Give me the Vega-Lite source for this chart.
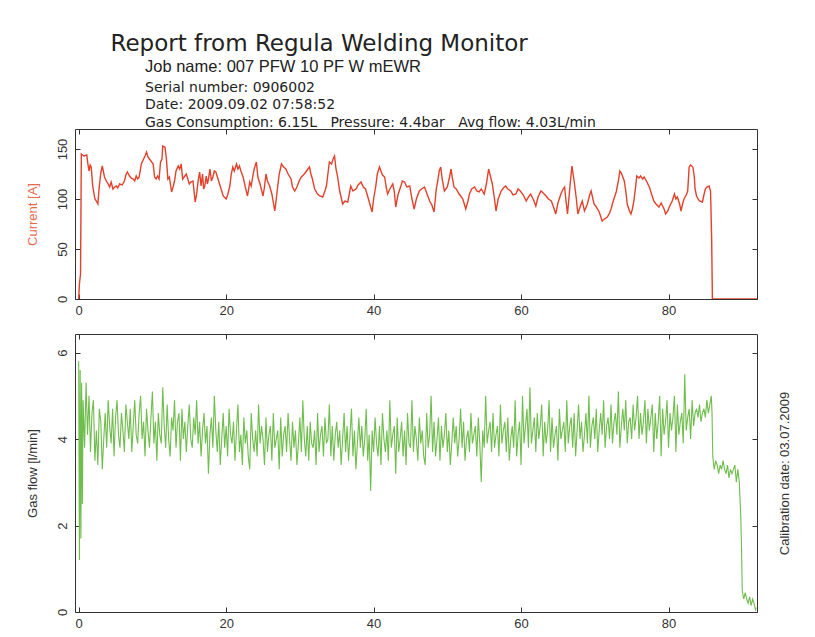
{
  "$schema": "https://vega.github.io/schema/vega-lite/v6.json",
  "background": "white",
  "padding": {"left": 25, "top": 32, "right": 22, "bottom": 0},
  "spacing": 15,
  "title": {"text": "Report from Regula Welding Monitor", "anchor": "start", "frame": "bounds", "fontSize": 23, "font": "DejaVu Sans", "fontWeight": "normal", "color": "#222222", "dx": 85, "offset": 3},
  "config": {
    "view": {"stroke": "#333333", "strokeWidth": 1},
    "axis": {"labelFont": "Liberation Sans", "titleFont": "Liberation Sans", "labelFontSize": 13, "titleFontSize": 13, "labelColor": "#333333", "titleColor": "#333333", "titleFontWeight": "normal", "tickColor": "#333333", "tickSize": 5, "domain": false, "grid": false}
  },
  "datasets": {
    "current": [
      {"t":0,"current":0},{"t":0.1,"current":15},{"t":0.25,"current":25},{"t":0.36,"current":145},{"t":0.7,"current":143},{"t":1.1,"current":144},{"t":1.25,"current":135},{"t":1.4,"current":128},{"t":1.55,"current":134},{"t":1.7,"current":132},{"t":1.9,"current":113},{"t":2.2,"current":100},{"t":2.4,"current":98},{"t":2.6,"current":95},{"t":2.8,"current":113},{"t":3.0,"current":126},{"t":3.2,"current":133},{"t":3.5,"current":122},{"t":3.75,"current":118},{"t":4.0,"current":115},{"t":4.2,"current":112},{"t":4.4,"current":117},{"t":4.65,"current":110},{"t":4.9,"current":112},{"t":5.1,"current":113},{"t":5.3,"current":111},{"t":5.55,"current":115},{"t":5.9,"current":114},{"t":6.2,"current":118},{"t":6.4,"current":124},{"t":6.6,"current":127},{"t":6.9,"current":123},{"t":7.1,"current":121},{"t":7.4,"current":120},{"t":7.6,"current":118},{"t":7.8,"current":123},{"t":8.0,"current":120},{"t":8.2,"current":122},{"t":8.5,"current":135},{"t":8.8,"current":140},{"t":9.0,"current":143},{"t":9.2,"current":147},{"t":9.4,"current":142},{"t":9.6,"current":140},{"t":9.8,"current":138},{"t":10.1,"current":135},{"t":10.3,"current":122},{"t":10.5,"current":120},{"t":10.7,"current":123},{"t":10.9,"current":120},{"t":11.1,"current":137},{"t":11.3,"current":140},{"t":11.4,"current":153},{"t":11.7,"current":152},{"t":11.9,"current":140},{"t":12.1,"current":120},{"t":12.3,"current":122},{"t":12.6,"current":107},{"t":12.8,"current":112},{"t":13.0,"current":118},{"t":13.2,"current":128},{"t":13.5,"current":133},{"t":13.7,"current":130},{"t":13.9,"current":135},{"t":14.1,"current":120},{"t":14.3,"current":122},{"t":14.6,"current":125},{"t":14.8,"current":120},{"t":15.0,"current":115},{"t":15.2,"current":117},{"t":15.5,"current":118},{"t":15.8,"current":97},{"t":16.0,"current":105},{"t":16.2,"current":118},{"t":16.4,"current":127},{"t":16.6,"current":113},{"t":16.8,"current":125},{"t":16.95,"current":110},{"t":17.1,"current":113},{"t":17.3,"current":123},{"t":17.45,"current":115},{"t":17.6,"current":120},{"t":17.8,"current":130},{"t":18.0,"current":118},{"t":18.2,"current":122},{"t":18.4,"current":128},{"t":18.6,"current":127},{"t":18.9,"current":120},{"t":19.1,"current":115},{"t":19.4,"current":108},{"t":19.6,"current":103},{"t":20.0,"current":100},{"t":20.2,"current":104},{"t":20.5,"current":113},{"t":20.7,"current":125},{"t":20.9,"current":132},{"t":21.1,"current":128},{"t":21.4,"current":135},{"t":21.6,"current":130},{"t":21.8,"current":133},{"t":22.0,"current":128},{"t":22.3,"current":122},{"t":22.6,"current":112},{"t":22.9,"current":103},{"t":23.2,"current":117},{"t":23.4,"current":113},{"t":23.6,"current":122},{"t":23.8,"current":130},{"t":24.1,"current":137},{"t":24.3,"current":122},{"t":24.6,"current":115},{"t":25.0,"current":103},{"t":25.2,"current":112},{"t":25.4,"current":125},{"t":25.6,"current":118},{"t":25.9,"current":113},{"t":26.2,"current":105},{"t":26.6,"current":88},{"t":26.8,"current":100},{"t":27.0,"current":113},{"t":27.2,"current":125},{"t":27.5,"current":135},{"t":27.8,"current":132},{"t":28.1,"current":130},{"t":28.4,"current":125},{"t":28.8,"current":120},{"t":29.0,"current":112},{"t":29.3,"current":108},{"t":29.6,"current":112},{"t":29.9,"current":118},{"t":30.2,"current":122},{"t":30.6,"current":125},{"t":30.9,"current":128},{"t":31.3,"current":132},{"t":31.5,"current":125},{"t":31.7,"current":120},{"t":32.0,"current":110},{"t":32.4,"current":105},{"t":32.7,"current":103},{"t":33.1,"current":102},{"t":33.4,"current":108},{"t":33.6,"current":113},{"t":33.8,"current":125},{"t":34.0,"current":137},{"t":34.3,"current":135},{"t":34.5,"current":140},{"t":34.7,"current":143},{"t":34.9,"current":130},{"t":35.1,"current":123},{"t":35.4,"current":108},{"t":35.8,"current":95},{"t":36.1,"current":98},{"t":36.5,"current":97},{"t":36.7,"current":105},{"t":36.9,"current":113},{"t":37.2,"current":108},{"t":37.6,"current":110},{"t":37.9,"current":114},{"t":38.3,"current":117},{"t":38.6,"current":112},{"t":38.9,"current":110},{"t":39.3,"current":100},{"t":39.8,"current":87},{"t":40.0,"current":100},{"t":40.3,"current":113},{"t":40.5,"current":125},{"t":40.8,"current":132},{"t":41.0,"current":128},{"t":41.2,"current":124},{"t":41.5,"current":122},{"t":41.7,"current":112},{"t":41.9,"current":105},{"t":42.2,"current":110},{"t":42.6,"current":115},{"t":42.8,"current":108},{"t":43.0,"current":92},{"t":43.3,"current":104},{"t":43.7,"current":113},{"t":43.9,"current":118},{"t":44.2,"current":117},{"t":44.5,"current":112},{"t":44.9,"current":113},{"t":45.2,"current":100},{"t":45.5,"current":90},{"t":45.8,"current":100},{"t":46.2,"current":108},{"t":46.5,"current":110},{"t":46.9,"current":112},{"t":47.2,"current":106},{"t":47.6,"current":98},{"t":47.9,"current":94},{"t":48.2,"current":87},{"t":48.5,"current":110},{"t":48.7,"current":118},{"t":48.9,"current":128},{"t":49.1,"current":132},{"t":49.3,"current":120},{"t":49.6,"current":108},{"t":49.8,"current":110},{"t":50.0,"current":112},{"t":50.3,"current":122},{"t":50.5,"current":130},{"t":50.7,"current":120},{"t":50.9,"current":112},{"t":51.2,"current":110},{"t":51.6,"current":105},{"t":52.1,"current":100},{"t":52.3,"current":95},{"t":52.5,"current":90},{"t":52.8,"current":98},{"t":53.0,"current":105},{"t":53.3,"current":110},{"t":53.7,"current":112},{"t":54.0,"current":108},{"t":54.3,"current":107},{"t":54.6,"current":110},{"t":55.0,"current":105},{"t":55.3,"current":115},{"t":55.6,"current":130},{"t":55.8,"current":124},{"t":56.1,"current":115},{"t":56.4,"current":100},{"t":56.6,"current":88},{"t":56.9,"current":100},{"t":57.3,"current":108},{"t":57.6,"current":111},{"t":57.9,"current":113},{"t":58.2,"current":110},{"t":58.6,"current":108},{"t":58.9,"current":104},{"t":59.3,"current":105},{"t":59.6,"current":110},{"t":59.9,"current":108},{"t":60.3,"current":104},{"t":60.7,"current":98},{"t":61.0,"current":102},{"t":61.3,"current":105},{"t":61.7,"current":99},{"t":62.0,"current":93},{"t":62.3,"current":102},{"t":62.7,"current":108},{"t":63.0,"current":106},{"t":63.4,"current":103},{"t":63.7,"current":100},{"t":64.1,"current":98},{"t":64.4,"current":92},{"t":64.7,"current":85},{"t":65.0,"current":96},{"t":65.4,"current":105},{"t":65.7,"current":110},{"t":65.9,"current":112},{"t":66.1,"current":98},{"t":66.3,"current":85},{"t":66.6,"current":110},{"t":66.9,"current":133},{"t":67.0,"current":128},{"t":67.2,"current":118},{"t":67.5,"current":100},{"t":67.7,"current":85},{"t":68.0,"current":92},{"t":68.3,"current":98},{"t":68.6,"current":88},{"t":69.0,"current":95},{"t":69.3,"current":104},{"t":69.5,"current":108},{"t":69.9,"current":95},{"t":70.2,"current":92},{"t":70.6,"current":87},{"t":71.0,"current":78},{"t":71.3,"current":80},{"t":71.7,"current":82},{"t":72.0,"current":86},{"t":72.2,"current":90},{"t":72.5,"current":98},{"t":72.9,"current":107},{"t":73.2,"current":118},{"t":73.4,"current":128},{"t":73.6,"current":126},{"t":74.0,"current":118},{"t":74.2,"current":108},{"t":74.4,"current":95},{"t":74.7,"current":88},{"t":74.9,"current":85},{"t":75.1,"current":90},{"t":75.3,"current":98},{"t":75.5,"current":110},{"t":75.7,"current":123},{"t":76.0,"current":121},{"t":76.2,"current":123},{"t":76.5,"current":120},{"t":76.7,"current":122},{"t":77.0,"current":118},{"t":77.4,"current":112},{"t":77.7,"current":105},{"t":78.0,"current":98},{"t":78.3,"current":95},{"t":78.7,"current":92},{"t":79.0,"current":96},{"t":79.2,"current":93},{"t":79.4,"current":90},{"t":79.6,"current":85},{"t":79.9,"current":88},{"t":80.1,"current":92},{"t":80.5,"current":98},{"t":80.8,"current":105},{"t":81.0,"current":100},{"t":81.2,"current":102},{"t":81.5,"current":95},{"t":81.7,"current":88},{"t":81.9,"current":95},{"t":82.1,"current":100},{"t":82.4,"current":104},{"t":82.6,"current":108},{"t":82.8,"current":132},{"t":83.0,"current":134},{"t":83.3,"current":132},{"t":83.5,"current":122},{"t":83.6,"current":110},{"t":83.8,"current":103},{"t":84.0,"current":100},{"t":84.2,"current":98},{"t":84.6,"current":97},{"t":84.8,"current":104},{"t":85.0,"current":110},{"t":85.2,"current":112},{"t":85.5,"current":113},{"t":85.7,"current":108},{"t":85.85,"current":60},{"t":85.95,"current":0},{"t":92,"current":0}
    ],
    "gas": [
      {"t":0,"flow":5.8},{"t":0.1,"flow":1.2},{"t":0.2,"flow":5.6},{"t":0.3,"flow":1.7},{"t":0.4,"flow":5.3},{"t":0.5,"flow":2.5},{"t":0.6,"flow":4.9},{"t":0.8,"flow":3.8},{"t":1.0,"flow":5.3},
      {"t":1.2,"flow":4.1},{"t":1.4,"flow":5.0},{"t":1.6,"flow":3.7},{"t":1.8,"flow":4.6},{"t":2.0,"flow":4.9},{"t":2.2,"flow":3.5},{"t":2.4,"flow":4.2},{"t":2.6,"flow":3.4},{"t":2.8,"flow":4.7},{"t":3.0,"flow":4.4},
      {"t":3.2,"flow":3.3},{"t":3.4,"flow":4.0},{"t":3.6,"flow":4.6},{"t":3.8,"flow":3.8},{"t":4.0,"flow":4.9},{"t":4.2,"flow":4.3},{"t":4.4,"flow":3.9},{"t":4.6,"flow":4.7},{"t":4.8,"flow":3.6},{"t":5.0,"flow":4.5},
      {"t":5.2,"flow":4.9},{"t":5.4,"flow":4.1},{"t":5.6,"flow":3.8},{"t":5.8,"flow":4.6},{"t":6.0,"flow":4.2},{"t":6.2,"flow":3.7},{"t":6.4,"flow":4.8},{"t":6.6,"flow":4.4},{"t":6.8,"flow":4.0},{"t":7.0,"flow":4.7},
      {"t":7.2,"flow":3.7},{"t":7.4,"flow":4.3},{"t":7.6,"flow":4.9},{"t":7.8,"flow":4.1},{"t":8.0,"flow":3.9},{"t":8.2,"flow":4.6},{"t":8.4,"flow":5.0},{"t":8.6,"flow":4.0},{"t":8.8,"flow":4.4},{"t":9.0,"flow":3.6},
      {"t":9.2,"flow":4.7},{"t":9.4,"flow":4.2},{"t":9.6,"flow":3.8},{"t":9.8,"flow":4.5},{"t":10.0,"flow":5.1},{"t":10.2,"flow":3.9},{"t":10.4,"flow":4.4},{"t":10.6,"flow":3.5},{"t":10.8,"flow":4.6},{"t":11.0,"flow":4.1},
      {"t":11.2,"flow":3.9},{"t":11.4,"flow":5.2},{"t":11.6,"flow":4.3},{"t":11.8,"flow":3.8},{"t":12.0,"flow":4.8},{"t":12.2,"flow":4.0},{"t":12.4,"flow":3.6},{"t":12.6,"flow":4.5},{"t":12.8,"flow":4.2},{"t":13.0,"flow":4.9},
      {"t":13.2,"flow":3.8},{"t":13.4,"flow":4.4},{"t":13.6,"flow":4.6},{"t":13.8,"flow":3.5},{"t":14.0,"flow":4.7},{"t":14.2,"flow":4.0},{"t":14.4,"flow":4.4},{"t":14.6,"flow":3.7},{"t":14.8,"flow":4.3},{"t":15.0,"flow":4.8},
      {"t":15.2,"flow":4.0},{"t":15.4,"flow":3.8},{"t":15.6,"flow":4.5},{"t":15.8,"flow":4.1},{"t":16.0,"flow":4.9},{"t":16.2,"flow":3.9},{"t":16.4,"flow":4.4},{"t":16.6,"flow":3.6},{"t":16.8,"flow":4.2},{"t":17.0,"flow":4.6},
      {"t":17.2,"flow":3.9},{"t":17.4,"flow":4.3},{"t":17.6,"flow":3.2},{"t":17.8,"flow":4.1},{"t":18.0,"flow":4.5},{"t":18.2,"flow":3.8},{"t":18.4,"flow":5.0},{"t":18.6,"flow":4.2},{"t":18.8,"flow":3.7},{"t":19.0,"flow":4.4},
      {"t":19.2,"flow":3.4},{"t":19.4,"flow":4.0},{"t":19.6,"flow":4.6},{"t":19.8,"flow":3.8},{"t":20.0,"flow":4.3},{"t":20.2,"flow":3.6},{"t":20.4,"flow":4.7},{"t":20.6,"flow":4.1},{"t":20.8,"flow":3.9},{"t":21.0,"flow":4.4},
      {"t":21.2,"flow":3.5},{"t":21.4,"flow":4.2},{"t":21.6,"flow":4.8},{"t":21.8,"flow":3.7},{"t":22.0,"flow":4.1},{"t":22.2,"flow":3.4},{"t":22.4,"flow":4.5},{"t":22.6,"flow":3.9},{"t":22.8,"flow":4.2},{"t":23.0,"flow":3.6},
      {"t":23.2,"flow":3.3},{"t":23.4,"flow":4.6},{"t":23.6,"flow":4.0},{"t":23.8,"flow":3.7},{"t":24.0,"flow":4.2},{"t":24.2,"flow":3.6},{"t":24.4,"flow":4.8},{"t":24.6,"flow":3.9},{"t":24.8,"flow":4.3},{"t":25.0,"flow":4.0},
      {"t":25.2,"flow":3.4},{"t":25.4,"flow":4.5},{"t":25.6,"flow":3.7},{"t":25.8,"flow":4.1},{"t":26.0,"flow":4.3},{"t":26.2,"flow":3.5},{"t":26.4,"flow":4.6},{"t":26.6,"flow":3.8},{"t":26.8,"flow":4.0},{"t":27.0,"flow":4.2},
      {"t":27.2,"flow":3.3},{"t":27.4,"flow":4.5},{"t":27.6,"flow":3.6},{"t":27.8,"flow":4.1},{"t":28.0,"flow":4.3},{"t":28.2,"flow":3.7},{"t":28.4,"flow":4.6},{"t":28.6,"flow":4.0},{"t":28.8,"flow":3.5},{"t":29.0,"flow":4.4},
      {"t":29.2,"flow":3.8},{"t":29.4,"flow":4.2},{"t":29.6,"flow":3.4},{"t":29.8,"flow":3.9},{"t":30.0,"flow":4.5},{"t":30.2,"flow":3.7},{"t":30.4,"flow":4.9},{"t":30.6,"flow":4.0},{"t":30.8,"flow":3.6},{"t":31.0,"flow":4.3},
      {"t":31.2,"flow":3.5},{"t":31.4,"flow":4.4},{"t":31.6,"flow":3.9},{"t":31.8,"flow":3.8},{"t":32.0,"flow":4.2},{"t":32.2,"flow":3.4},{"t":32.4,"flow":4.6},{"t":32.6,"flow":3.7},{"t":32.8,"flow":4.1},{"t":33.0,"flow":4.3},
      {"t":33.2,"flow":3.6},{"t":33.4,"flow":4.5},{"t":33.6,"flow":3.9},{"t":33.8,"flow":4.0},{"t":34.0,"flow":4.8},{"t":34.2,"flow":3.6},{"t":34.4,"flow":4.3},{"t":34.6,"flow":3.5},{"t":34.8,"flow":4.1},{"t":35.0,"flow":4.4},
      {"t":35.2,"flow":3.8},{"t":35.4,"flow":4.2},{"t":35.6,"flow":3.4},{"t":35.8,"flow":4.0},{"t":36.0,"flow":4.6},{"t":36.2,"flow":3.7},{"t":36.4,"flow":4.3},{"t":36.6,"flow":3.5},{"t":36.8,"flow":4.1},{"t":37.0,"flow":4.7},
      {"t":37.2,"flow":3.6},{"t":37.4,"flow":4.2},{"t":37.6,"flow":3.3},{"t":37.8,"flow":3.9},{"t":38.0,"flow":4.5},{"t":38.2,"flow":3.8},{"t":38.4,"flow":4.3},{"t":38.6,"flow":3.6},{"t":38.8,"flow":4.0},{"t":39.0,"flow":4.7},
      {"t":39.2,"flow":3.5},{"t":39.4,"flow":4.1},{"t":39.6,"flow":2.8},{"t":39.8,"flow":4.2},{"t":40.0,"flow":3.7},{"t":40.2,"flow":4.5},{"t":40.4,"flow":3.9},{"t":40.6,"flow":3.6},{"t":40.8,"flow":4.3},{"t":41.0,"flow":3.4},
      {"t":41.2,"flow":4.6},{"t":41.4,"flow":4.0},{"t":41.6,"flow":3.7},{"t":41.8,"flow":4.2},{"t":42.0,"flow":3.5},{"t":42.2,"flow":4.9},{"t":42.4,"flow":3.8},{"t":42.6,"flow":4.1},{"t":42.8,"flow":4.3},{"t":43.0,"flow":3.2},
      {"t":43.2,"flow":4.5},{"t":43.4,"flow":3.7},{"t":43.6,"flow":4.0},{"t":43.8,"flow":4.4},{"t":44.0,"flow":3.6},{"t":44.2,"flow":4.2},{"t":44.4,"flow":3.4},{"t":44.6,"flow":4.6},{"t":44.8,"flow":3.9},{"t":45.0,"flow":3.8},
      {"t":45.2,"flow":4.9},{"t":45.4,"flow":3.7},{"t":45.6,"flow":4.3},{"t":45.8,"flow":4.0},{"t":46.0,"flow":3.5},{"t":46.2,"flow":4.5},{"t":46.4,"flow":3.9},{"t":46.6,"flow":4.2},{"t":46.8,"flow":3.6},{"t":47.0,"flow":3.4},
      {"t":47.2,"flow":4.6},{"t":47.4,"flow":3.8},{"t":47.6,"flow":4.1},{"t":47.8,"flow":5.0},{"t":48.0,"flow":3.7},{"t":48.2,"flow":4.4},{"t":48.4,"flow":3.6},{"t":48.6,"flow":4.0},{"t":48.8,"flow":4.5},{"t":49.0,"flow":3.5},
      {"t":49.2,"flow":4.3},{"t":49.4,"flow":3.8},{"t":49.6,"flow":4.1},{"t":49.8,"flow":4.6},{"t":50.0,"flow":3.7},{"t":50.2,"flow":4.2},{"t":50.4,"flow":3.4},{"t":50.6,"flow":3.9},{"t":50.8,"flow":4.5},{"t":51.0,"flow":3.9},
      {"t":51.2,"flow":4.3},{"t":51.4,"flow":3.6},{"t":51.6,"flow":4.0},{"t":51.8,"flow":4.7},{"t":52.0,"flow":3.8},{"t":52.2,"flow":4.4},{"t":52.4,"flow":3.5},{"t":52.6,"flow":4.0},{"t":52.8,"flow":4.2},{"t":53.0,"flow":3.7},
      {"t":53.2,"flow":4.6},{"t":53.4,"flow":3.9},{"t":53.6,"flow":4.1},{"t":53.8,"flow":4.3},{"t":54.0,"flow":3.6},{"t":54.2,"flow":4.5},{"t":54.4,"flow":3.9},{"t":54.6,"flow":3.0},{"t":54.8,"flow":4.2},{"t":55.0,"flow":3.8},
      {"t":55.2,"flow":5.0},{"t":55.4,"flow":3.9},{"t":55.6,"flow":4.2},{"t":55.8,"flow":4.4},{"t":56.0,"flow":3.7},{"t":56.2,"flow":4.6},{"t":56.4,"flow":3.8},{"t":56.6,"flow":4.1},{"t":56.8,"flow":4.3},{"t":57.0,"flow":3.6},
      {"t":57.2,"flow":4.8},{"t":57.4,"flow":3.9},{"t":57.6,"flow":4.2},{"t":57.8,"flow":4.4},{"t":58.0,"flow":3.7},{"t":58.2,"flow":4.5},{"t":58.4,"flow":3.5},{"t":58.6,"flow":4.0},{"t":58.8,"flow":4.3},{"t":59.0,"flow":3.8},
      {"t":59.2,"flow":4.9},{"t":59.4,"flow":3.6},{"t":59.6,"flow":4.1},{"t":59.8,"flow":4.4},{"t":60.0,"flow":3.4},{"t":60.2,"flow":5.0},{"t":60.4,"flow":3.9},{"t":60.6,"flow":4.3},{"t":60.8,"flow":4.7},{"t":61.0,"flow":3.8},
      {"t":61.2,"flow":5.2},{"t":61.4,"flow":3.9},{"t":61.6,"flow":4.2},{"t":61.8,"flow":4.5},{"t":62.0,"flow":3.7},{"t":62.2,"flow":4.6},{"t":62.4,"flow":4.0},{"t":62.6,"flow":4.3},{"t":62.8,"flow":4.8},{"t":63.0,"flow":3.6},
      {"t":63.2,"flow":4.4},{"t":63.4,"flow":3.9},{"t":63.6,"flow":4.2},{"t":63.8,"flow":4.9},{"t":64.0,"flow":3.7},{"t":64.2,"flow":4.5},{"t":64.4,"flow":3.8},{"t":64.6,"flow":4.1},{"t":64.8,"flow":4.3},{"t":65.0,"flow":3.5},
      {"t":65.2,"flow":4.7},{"t":65.4,"flow":4.0},{"t":65.6,"flow":4.2},{"t":65.8,"flow":4.4},{"t":66.0,"flow":3.7},{"t":66.2,"flow":4.9},{"t":66.4,"flow":3.9},{"t":66.6,"flow":4.3},{"t":66.8,"flow":4.5},{"t":67.0,"flow":3.8},
      {"t":67.2,"flow":4.6},{"t":67.4,"flow":3.6},{"t":67.6,"flow":4.2},{"t":67.8,"flow":4.8},{"t":68.0,"flow":4.0},{"t":68.2,"flow":4.4},{"t":68.4,"flow":3.7},{"t":68.6,"flow":4.1},{"t":68.8,"flow":4.6},{"t":69.0,"flow":3.9},
      {"t":69.2,"flow":5.0},{"t":69.4,"flow":3.8},{"t":69.6,"flow":4.3},{"t":69.8,"flow":4.5},{"t":70.0,"flow":4.0},{"t":70.2,"flow":4.7},{"t":70.4,"flow":3.7},{"t":70.6,"flow":4.2},{"t":70.8,"flow":4.6},{"t":71.0,"flow":4.1},
      {"t":71.2,"flow":4.9},{"t":71.4,"flow":3.8},{"t":71.6,"flow":4.3},{"t":71.8,"flow":4.5},{"t":72.0,"flow":4.0},{"t":72.2,"flow":4.8},{"t":72.4,"flow":3.9},{"t":72.6,"flow":4.4},{"t":72.8,"flow":4.6},{"t":73.0,"flow":4.1},
      {"t":73.2,"flow":5.1},{"t":73.4,"flow":3.8},{"t":73.6,"flow":4.3},{"t":73.8,"flow":4.7},{"t":74.0,"flow":4.2},{"t":74.2,"flow":4.9},{"t":74.4,"flow":3.9},{"t":74.6,"flow":4.4},{"t":74.8,"flow":4.5},{"t":75.0,"flow":4.0},
      {"t":75.2,"flow":4.8},{"t":75.4,"flow":4.2},{"t":75.6,"flow":4.5},{"t":75.8,"flow":5.0},{"t":76.0,"flow":4.0},{"t":76.2,"flow":4.6},{"t":76.4,"flow":4.1},{"t":76.6,"flow":4.4},{"t":76.8,"flow":4.9},{"t":77.0,"flow":3.9},
      {"t":77.2,"flow":4.7},{"t":77.4,"flow":4.2},{"t":77.6,"flow":4.5},{"t":77.8,"flow":4.8},{"t":78.0,"flow":3.7},{"t":78.2,"flow":4.6},{"t":78.4,"flow":4.0},{"t":78.6,"flow":4.4},{"t":78.8,"flow":5.0},{"t":79.0,"flow":3.6},
      {"t":79.2,"flow":4.7},{"t":79.4,"flow":4.1},{"t":79.6,"flow":4.4},{"t":79.8,"flow":4.9},{"t":80.0,"flow":3.8},{"t":80.2,"flow":4.6},{"t":80.4,"flow":4.2},{"t":80.6,"flow":4.5},{"t":80.8,"flow":5.0},{"t":81.0,"flow":3.7},
      {"t":81.2,"flow":4.8},{"t":81.4,"flow":4.1},{"t":81.6,"flow":4.4},{"t":81.8,"flow":4.6},{"t":82.0,"flow":3.9},{"t":82.2,"flow":5.5},{"t":82.4,"flow":4.2},{"t":82.6,"flow":4.5},{"t":82.8,"flow":4.7},{"t":83.0,"flow":4.0},
      {"t":83.2,"flow":4.9},{"t":83.4,"flow":4.3},{"t":83.6,"flow":4.6},{"t":83.8,"flow":4.7},{"t":84.0,"flow":4.5},{"t":84.2,"flow":4.8},{"t":84.4,"flow":4.4},{"t":84.6,"flow":4.6},{"t":84.8,"flow":4.7},{"t":85.0,"flow":4.5},
      {"t":85.2,"flow":4.9},{"t":85.4,"flow":4.6},{"t":85.6,"flow":4.8},{"t":85.8,"flow":5.0},{"t":85.9,"flow":4.6},{"t":86.0,"flow":3.6},{"t":86.2,"flow":3.3},{"t":86.4,"flow":3.5},{"t":86.6,"flow":3.4},{"t":86.8,"flow":3.2},
      {"t":87.0,"flow":3.4},{"t":87.2,"flow":3.3},{"t":87.4,"flow":3.5},{"t":87.6,"flow":3.3},{"t":87.8,"flow":3.2},{"t":88.0,"flow":3.4},{"t":88.2,"flow":3.1},{"t":88.4,"flow":3.3},{"t":88.6,"flow":3.2},{"t":88.8,"flow":3.3},
      {"t":89.0,"flow":3.4},{"t":89.2,"flow":3.0},{"t":89.4,"flow":3.3},{"t":89.6,"flow":3.0},{"t":89.8,"flow":2.2},{"t":89.9,"flow":1.5},{"t":90.0,"flow":0.5},{"t":90.2,"flow":0.3},{"t":90.4,"flow":0.45},{"t":90.6,"flow":0.3},
      {"t":90.8,"flow":0.2},{"t":91.0,"flow":0.35},{"t":91.2,"flow":0.15},{"t":91.4,"flow":0.3},{"t":91.6,"flow":0.2},{"t":91.8,"flow":0.05},{"t":91.9,"flow":0.1}
    ]
  },
  "vconcat": [
    {
      "width": 682,
      "height": 170,
      "title": {
        "text": "Job name: 007 PFW 10 PF W mEWR",
        "subtitle": ["Serial number: 0906002", "Date: 2009.09.02 07:58:52", "Gas Consumption: 6.15L \u00a0 Pressure: 4.4bar \u00a0 Avg flow: 4.03L/min"],
        "anchor": "start",
        "frame": "group",
        "dx": 70,
        "font": "Liberation Sans",
        "fontSize": 16.5,
        "fontWeight": "normal",
        "color": "#222222",
        "subtitleFont": "DejaVu Sans",
        "subtitleFontSize": 14,
        "subtitleColor": "#222222",
        "subtitleLineHeight": 17.5,
        "subtitlePadding": 5,
        "offset": -1
      },
      "data": {"name": "current"},
      "layer": [
        {
          "mark": {"type": "line", "color": "#e2412b", "strokeWidth": 1.4, "clip": true},
          "encoding": {
            "x": {"field": "t", "type": "quantitative", "scale": {"domain": [-0.5, 92], "nice": false, "zero": false},
                  "axis": {"orient": "bottom", "values": [0, 20, 40, 60, 80], "title": null, "labelAngle": 0, "ticks": false, "labelPadding": 5}},
            "y": {"field": "current", "type": "quantitative", "scale": {"domain": [0, 170], "nice": false},
                  "axis": {"orient": "left", "values": [0, 50, 100, 150], "title": "Current [A]", "titleColor": "#e5694f", "ticks": false, "labelAngle": 270, "labelAlign": "center", "labelBaseline": "bottom", "labelPadding": 6, "titlePadding": 17}}
          }
        },
        {
          "mark": {"type": "line", "strokeOpacity": 0},
          "encoding": {
            "x": {"field": "t", "type": "quantitative", "scale": {"domain": [-0.5, 92], "nice": false, "zero": false},
                  "axis": {"orient": "bottom", "offset": -170, "values": [0, 20, 40, 60, 80], "title": null, "labels": false}},
            "y": {"field": "current", "type": "quantitative", "scale": {"domain": [0, 170], "nice": false},
                  "axis": {"orient": "right", "offset": -682, "values": [0, 50, 100, 150], "title": null, "labels": false}}
          }
        },
        {
          "mark": {"type": "line", "strokeOpacity": 0},
          "encoding": {
            "x": {"field": "t", "type": "quantitative", "scale": {"domain": [-0.5, 92], "nice": false, "zero": false},
                  "axis": {"orient": "top", "offset": -170, "values": [0, 20, 40, 60, 80], "title": null, "labels": false}},
            "y": {"field": "current", "type": "quantitative", "scale": {"domain": [0, 170], "nice": false},
                  "axis": {"orient": "left", "offset": -682, "values": [0, 50, 100, 150], "title": null, "labels": false}}
          }
        }
      ],
      "resolve": {"axis": {"x": "independent", "y": "independent"}}
    },
    {
      "width": 682,
      "height": 278,
      "data": {"name": "gas"},
      "layer": [
        {
          "mark": {"type": "line", "color": "#6fbd4c", "strokeWidth": 1.1, "clip": true},
          "encoding": {
            "x": {"field": "t", "type": "quantitative", "scale": {"domain": [-0.5, 92], "nice": false, "zero": false},
                  "axis": {"orient": "bottom", "values": [0, 20, 40, 60, 80], "title": null, "labelAngle": 0, "ticks": false, "labelPadding": 5}},
            "y": {"field": "flow", "type": "quantitative", "scale": {"domain": [0, 6.43], "nice": false},
                  "axis": {"orient": "left", "values": [0, 2, 4, 6], "title": "Gas flow [l/min]", "ticks": false, "labelAngle": 270, "labelAlign": "center", "labelBaseline": "bottom", "labelPadding": 6, "titlePadding": 17}}
          }
        },
        {
          "mark": {"type": "line", "strokeOpacity": 0},
          "encoding": {
            "x": {"field": "t", "type": "quantitative", "scale": {"domain": [-0.5, 92], "nice": false, "zero": false},
                  "axis": {"orient": "bottom", "offset": -278, "values": [0, 20, 40, 60, 80], "title": null, "labels": false}},
            "y": {"field": "flow", "type": "quantitative", "scale": {"domain": [0, 6.43], "nice": false},
                  "axis": {"orient": "right", "offset": -682, "values": [0, 2, 4, 6], "title": null, "labels": false}}
          }
        },
        {
          "mark": {"type": "line", "strokeOpacity": 0},
          "encoding": {
            "x": {"field": "t", "type": "quantitative", "scale": {"domain": [-0.5, 92], "nice": false, "zero": false},
                  "axis": {"orient": "top", "offset": -278, "values": [0, 20, 40, 60, 80], "title": null, "labels": false}},
            "y": {"field": "flow", "type": "quantitative", "scale": {"domain": [0, 6.43], "nice": false},
                  "axis": {"orient": "left", "offset": -682, "values": [0, 2, 4, 6], "title": null, "labels": false}}
          }
        },
        {
          "mark": {"type": "line", "strokeOpacity": 0},
          "encoding": {
            "x": {"field": "t", "type": "quantitative", "scale": {"domain": [-0.5, 92], "nice": false, "zero": false}, "axis": null},
            "y": {"field": "flow", "type": "quantitative", "scale": {"domain": [0, 6.43], "nice": false},
                  "axis": {"orient": "right", "values": [0, 2, 4, 6], "title": "Calibration date: 03.07.2009", "labels": false, "ticks": false, "titleAngle": 270, "titlePadding": 34}}
          }
        }
      ],
      "resolve": {"axis": {"x": "independent", "y": "independent"}}
    }
  ]
}
